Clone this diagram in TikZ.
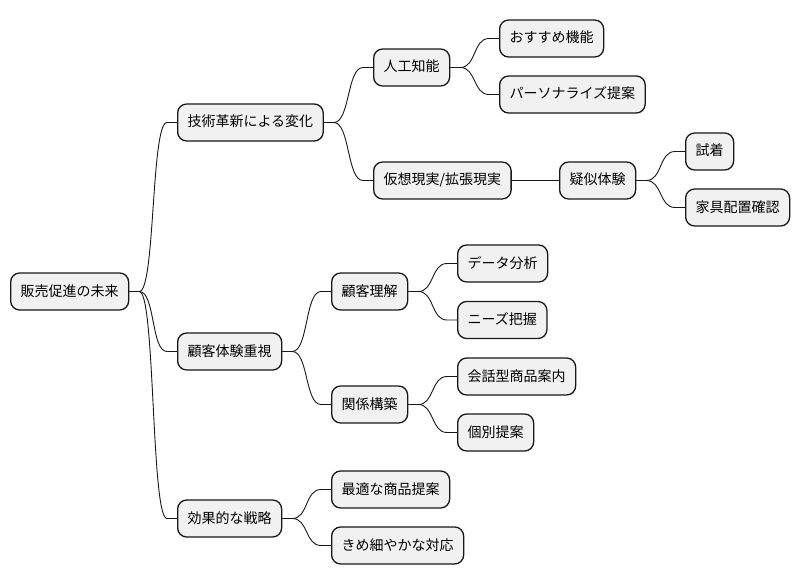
\documentclass[tikz,border=0pt]{standalone}
\usepackage{fontspec}
\setmainfont{Noto Sans CJK JP}
\definecolor{nodefill}{HTML}{F1F1F1}
\definecolor{linecol}{HTML}{181818}
\begin{document}
\begin{tikzpicture}[x=1pt,y=-1pt,
  mm/.style={draw=linecol, fill=nodefill, line width=1.3pt, rounded corners=9pt,
    anchor=west, minimum height=37pt, inner xsep=10pt, inner ysep=0pt,
    font=\fontsize{14}{16}\selectfont, text height=11pt, text depth=2pt},
  conn/.style={draw=linecol, line width=0.9pt}]
\useasboundingbox[fill=white] (0,0) rectangle (801,583);
\node[mm] (root) at (10,291.5) {販売促進の未来};
\node[mm] (t1) at (177,122.5) {技術革新による変化};
\node[mm] (t2) at (177,351.5) {顧客体験重視};
\node[mm] (t3) at (177,518.5) {効果的な戦略};
\node[mm] (a1) at (373,67.5) {人工知能};
\node[mm] (a2) at (373,180.5) {仮想現実/拡張現実};
\node[mm] (b1) at (499,38.5) {おすすめ機能};
\node[mm] (b2) at (499,94.5) {パーソナライズ提案};
\node[mm] (c1) at (559,180.5) {疑似体験};
\node[mm] (d1) at (685,151.5) {試着};
\node[mm] (d2) at (685,207.5) {家具配置確認};
\node[mm] (e1) at (331,291.5) {顧客理解};
\node[mm] (e2) at (331,404.5) {関係構築};
\node[mm] (f1) at (457,263.5) {データ分析};
\node[mm] (f2) at (457,320) {ニーズ把握};
\node[mm] (f3) at (457,376.5) {会話型商品案内};
\node[mm] (f4) at (457,432.5) {個別提案};
\node[mm] (g1) at (331,489.5) {最適な商品提案};
\node[mm] (g2) at (331,545.5) {きめ細やかな対応};
\foreach \p/\c in {root/t1,root/t2,root/t3,t1/a1,t1/a2,a1/b1,a1/b2,c1/d1,c1/d2,t2/e1,t2/e2,e1/f1,e1/f2,e2/f3,e2/f4,t3/g1,t3/g2}{
  \draw[conn] (\p.east) -- ++(10,0) .. controls +(16,0) and +(-16,0) .. ([xshift=-10pt]\c.west) -- (\c.west);
}
\draw[conn] (a2) -- (c1);
\end{tikzpicture}
\end{document}
